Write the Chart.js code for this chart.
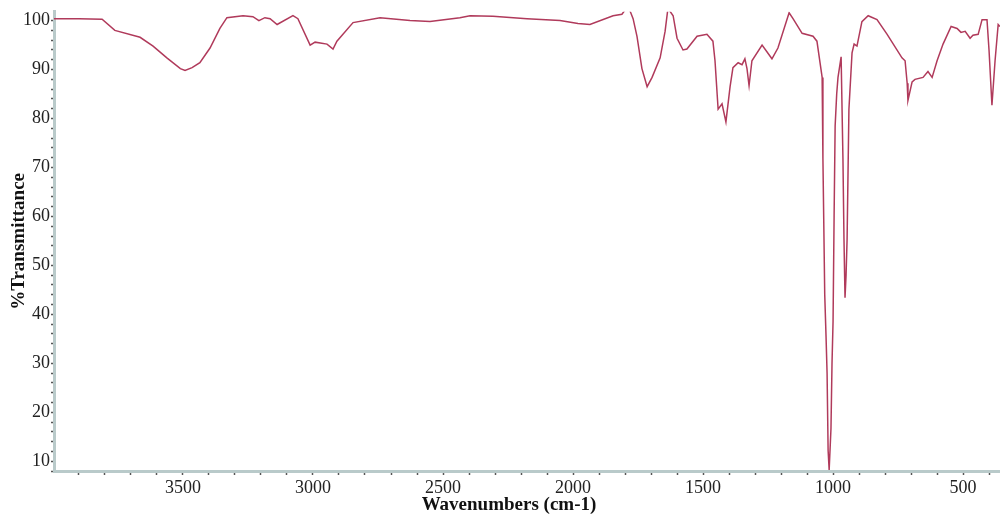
<!DOCTYPE html>
<html>
<head>
<meta charset="utf-8">
<script src="https://cdn.jsdelivr.net/npm/chart.js@4"></script>
<style>
  body { margin: 0; background: #fff; }
</style>
</head>
<body>
<canvas id="grafico" width="1000" height="516"></canvas>
<script>
// spectrum
const wavenumbers = [3996, 3900, 3811, 3762, 3665, 3615, 3562, 3510, 3492, 3465, 3435, 3396, 3358, 3331, 3269, 3231, 3208, 3185, 3165, 3138,
  3077, 3058, 3011, 2992, 2946, 2923, 2908, 2846, 2742, 2627, 2550, 2435, 2396, 2308, 2177, 2050, 1981, 1935, 1846, 1812,
  1795, 1781, 1769, 1754, 1735, 1715, 1696, 1665, 1646, 1635, 1615, 1600, 1577, 1562, 1523, 1485, 1462, 1454, 1442, 1427,
  1412, 1396, 1385, 1365, 1350, 1339, 1331, 1323, 1312, 1273, 1235, 1212, 1169, 1154, 1119, 1077, 1062, 1042, 1039, 1032,
  1027, 1023, 1019, 1015, 1008, 1004, 1000, 996, 992, 986, 981, 969, 962, 958, 954, 950, 946, 939, 927, 919,
  908, 889, 865, 831, 792, 735, 723, 715, 712, 696, 685, 654, 635, 619, 600, 577, 546, 523, 508, 492,
  473, 462, 442, 427, 408, 400, 389, 377, 365, 358];
const transmittance = [100.4, 100.4, 100.3, 98.0, 96.6, 94.8, 92.4, 90.2, 89.8, 90.4, 91.4, 94.4, 98.4, 100.6, 101.0, 100.8, 100.0, 100.6, 100.4, 99.2,
  101.0, 100.4, 95.0, 95.6, 95.2, 94.2, 95.8, 99.6, 100.6, 100.0, 99.8, 100.6, 101.0, 100.9, 100.4, 100.0, 99.4, 99.2, 101.0, 101.3,
  102.5, 102.0, 100.4, 96.8, 90.2, 86.5, 88.4, 92.4, 97.8, 102.5, 101.0, 96.4, 94.0, 94.2, 96.8, 97.2, 95.8, 91.8, 81.9, 83.0,
  79.3, 86.5, 90.4, 91.4, 91.0, 92.2, 90.2, 86.7, 91.8, 95.0, 92.2, 94.4, 101.6, 100.4, 97.4, 96.8, 95.8, 88.4, 71.9, 44.0,
  35.5, 28.0, 12.2, 8.2, 16.7, 30.0, 38.6, 60.0, 78.5, 85.0, 88.4, 92.6, 71.9, 55.4, 43.4, 48.0, 55.4, 81.9, 93.4, 95.2,
  94.8, 99.8, 101.0, 100.2, 97.2, 92.4, 91.8, 87.2, 83.7, 87.5, 88.0, 88.4, 89.6, 88.4, 91.8, 95.2, 98.8, 98.4, 97.6, 97.8,
  96.4, 97.0, 97.2, 100.2, 100.2, 93.8, 82.7, 91.8, 99.2, 98.8];

const xLabels = [3500, 3000, 2500, 2000, 1500, 1000, 500];
const yLabels = [10, 20, 30, 40, 50, 60, 70, 80, 90, 100];

const pontos = wavenumbers.map((w, i) => ({ x: w, y: transmittance[i] }));

const fonteTick = { family: 'Liberation Serif', size: 18 };
const fonteTitulo = { family: 'Liberation Serif', size: 19, weight: 'bold' };

// titulo do eixo x, um pouco deslocado do centro como no original
const tituloX = {
  id: 'tituloX',
  afterDraw(chart) {
    const c = chart.ctx;
    c.save();
    c.font = 'bold 19px "Liberation Serif"';
    c.fillStyle = '#111';
    c.textAlign = 'center';
    c.textBaseline = 'middle';
    c.fillText('Wavenumbers (cm-1)', 509, 505);
    c.restore();
  }
};

new Chart(document.getElementById('grafico'), {
  type: 'line',
  data: {
    datasets: [{
      data: pontos,
      borderColor: '#b03a5b',
      borderWidth: 1.5,
      pointRadius: 0,
      tension: 0,
      fill: false
    }]
  },
  options: {
    responsive: false,
    animation: false,
    layout: { padding: 0 },
    plugins: { legend: { display: false }, tooltip: { enabled: false } },
    scales: {
      x: {
        type: 'linear',
        reverse: true,
        min: 358,
        max: 3996,
        afterFit: s => { s.height = 45; },
        border: { color: '#b9caca', width: 3 },
        grid: { drawOnChartArea: false, tickLength: 4, tickWidth: 1.5, tickColor: '#555' },
        ticks: {
          stepSize: 100,
          includeBounds: false,
          autoSkip: false,
          maxRotation: 0,
          padding: 2,
          color: '#222',
          font: fonteTick,
          callback: v => xLabels.includes(v) ? String(v) : ''
        }
      },
      y: {
        min: 8,
        max: 101.8,
        afterFit: s => { s.width = 54; },
        border: { color: '#b9caca', width: 3 },
        grid: { drawOnChartArea: false, tickLength: 3, tickWidth: 1.5, tickColor: '#555' },
        title: {
          display: true,
          text: '%Transmittance',
          color: '#111',
          font: Object.assign({ lineHeight: 2 }, fonteTitulo),
          padding: 0
        },
        ticks: {
          stepSize: 2,
          includeBounds: false,
          autoSkip: false,
          padding: 1,
          color: '#222',
          font: fonteTick,
          callback: v => yLabels.includes(v) ? String(v) : ''
        }
      }
    }
  },
  plugins: [tituloX]
});
</script>
</body>
</html>
